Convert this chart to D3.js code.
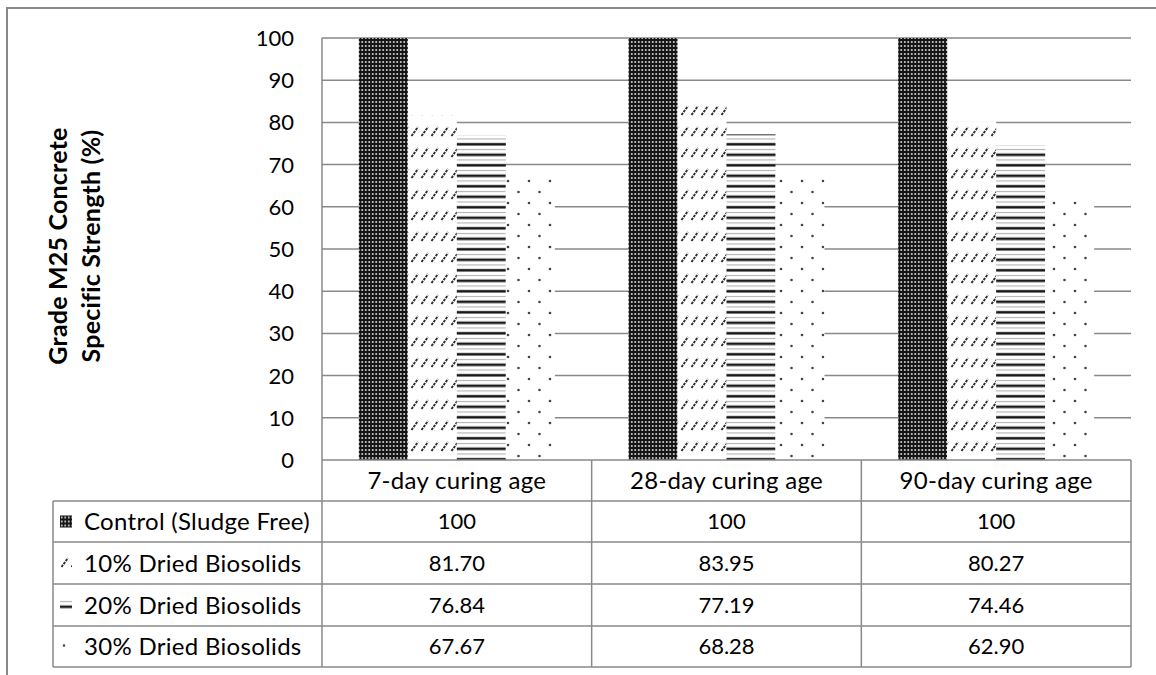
<!DOCTYPE html>
<html><head><meta charset="utf-8">
<script src="https://cdn.jsdelivr.net/npm/d3@7"></script>
<style>
html,body{margin:0;padding:0;background:#fff;}
svg{display:block;font-family:Lato,"Open Sans",sans-serif;}
</style></head>
<body>
<script>
const categories = ["7-day curing age", "28-day curing age", "90-day curing age"];
const seriesNames = ["Control (Sludge Free)", "10% Dried Biosolids", "20% Dried Biosolids", "30% Dried Biosolids"];
const control = [100, 100, 100];
const dried10 = [81.70, 83.95, 80.27];
const dried20 = [76.84, 77.19, 74.46];
const dried30 = [67.67, 68.28, 62.90];
const tableText = [["100","100","100"],["81.70","83.95","80.27"],["76.84","77.19","74.46"],["67.67","68.28","62.90"]];
const yTicks = [0,10,20,30,40,50,60,70,80,90,100];
const yTitle = ["Grade M25 Concrete", "Specific Strength (%)"];

const series = [control, dried10, dried20, dried30];
const W = 1156, H = 675;
const grid = "#898989";
const svg = d3.select("body").append("svg").attr("width", W).attr("height", H);

// patterns
const defs = svg.append("defs");
function makePatterns(prefix, ox, oy) {
  const p0 = defs.append("pattern").attr("id",prefix+"0").attr("patternUnits","userSpaceOnUse").attr("x",ox).attr("y",oy).attr("width",3.5).attr("height",4);
  p0.append("rect").attr("width",3.5).attr("height",4).attr("fill","#141414");
  p0.append("circle").attr("cx",1.75).attr("cy",2).attr("r",0.95).attr("fill","#e0e0e0");
  const p1 = defs.append("pattern").attr("id",prefix+"1").attr("patternUnits","userSpaceOnUse").attr("x",ox).attr("y",oy).attr("width",10).attr("height",21);
  p1.append("rect").attr("width",10).attr("height",21).attr("fill","#fff");
  p1.append("line").attr("x1",1.5).attr("y1",10).attr("x2",8).attr("y2",1).attr("stroke","#2e2e2e").attr("stroke-width",1.9).attr("stroke-dasharray","2.6,1");
  const p2 = defs.append("pattern").attr("id",prefix+"2").attr("patternUnits","userSpaceOnUse").attr("x",ox).attr("y",oy).attr("width",10).attr("height",10.5);
  p2.append("rect").attr("width",10).attr("height",10.5).attr("fill","#fff");
  p2.append("rect").attr("y",2).attr("width",10).attr("height",1).attr("fill","#aaa");
  p2.append("rect").attr("y",6.5).attr("width",10).attr("height",2.6).attr("fill","#1a1a1a");
  const p3 = defs.append("pattern").attr("id",prefix+"3").attr("patternUnits","userSpaceOnUse").attr("x",ox).attr("y",oy).attr("width",21).attr("height",22);
  p3.append("rect").attr("width",21).attr("height",22).attr("fill","#fff");
  p3.append("circle").attr("cx",4).attr("cy",5).attr("r",1.3).attr("fill","#444");
  p3.append("circle").attr("cx",14.5).attr("cy",16).attr("r",1.3).attr("fill","#444");
}
makePatterns("pat", 0, 0);
const fills = [0,1,2,3].map(i => "url(#pat" + i + ")");

// outer frame
svg.append("path").attr("d","M7,675V8H1156").attr("fill","none").attr("stroke",grid).attr("stroke-width",2);

const x0 = 322, x1 = 1131, yTop = 38, yBot = 460;
const x = d3.scaleBand().domain(categories).range([x0, x1]).paddingInner(0).paddingOuter(0);
const xs = d3.scaleBand().domain(seriesNames).range([0, x.bandwidth()]).paddingInner(0).paddingOuter(0.752);
const y = d3.scaleLinear().domain([0, 100]).range([yBot, yTop]);

// gridlines
svg.append("g").selectAll("line").data(yTicks.filter(t => t > 0)).join("line")
  .attr("x1", x0).attr("x2", x1).attr("y1", d => y(d)).attr("y2", d => y(d))
  .attr("stroke", grid).attr("stroke-width", 1.5);
svg.append("line").attr("x1",x0).attr("x2",x0).attr("y1",yTop).attr("y2",yBot).attr("stroke",grid).attr("stroke-width",1.5);

// y tick labels
svg.append("g").selectAll("text").data(yTicks).join("text")
  .attr("x", 294).attr("y", d => y(d)).attr("dy","0.36em").attr("text-anchor","end")
  .attr("font-size", 22).attr("fill","#000").text(d => d);

// bars
series.forEach((vals, si) => {
  svg.append("g").selectAll("rect").data(vals).join("rect")
    .attr("x", (d, i) => x(categories[i]) + xs(seriesNames[si]))
    .attr("width", xs.bandwidth())
    .attr("y", d => y(d)).attr("height", d => y(0) - y(d))
    .attr("fill", fills[si]);
});

// y title
const tg = svg.append("g").attr("transform","translate(0,246) rotate(-90)");
tg.selectAll("text").data(yTitle).join("text")
  .attr("x",0).attr("y",(d,i)=> 67 + i*33).attr("text-anchor","middle")
  .attr("font-size",25).attr("letter-spacing",0.2).attr("font-weight","bold").attr("fill","#000").text(d=>d);

// data table
const rowTop = [460, 501, 542, 584, 626, 667];
const tLeft = 53;
const tb = svg.append("g");
tb.selectAll("line.h").data(rowTop).join("line").attr("class","h")
  .attr("x1", (d,i) => i === 0 ? x0 : tLeft).attr("x2", x1)
  .attr("y1", d => d).attr("y2", d => d).attr("stroke", grid).attr("stroke-width", 1.5);
const vx = [x0].concat(categories.map(c => x(c) + x.bandwidth()));
tb.selectAll("line.v").data(vx).join("line").attr("class","v")
  .attr("x1", d => d).attr("x2", d => d).attr("y1", rowTop[0]).attr("y2", rowTop[5])
  .attr("stroke", grid).attr("stroke-width", 1.5);
tb.append("line").attr("x1",tLeft).attr("x2",tLeft).attr("y1",rowTop[1]).attr("y2",rowTop[5]).attr("stroke",grid).attr("stroke-width",1.5);
tb.selectAll("text.cat").data(categories).join("text").attr("class","cat")
  .attr("x", d => x(d) + x.bandwidth()/2).attr("y", (rowTop[0]+rowTop[1])/2).attr("dy","0.36em")
  .attr("text-anchor","middle").attr("font-size",24).attr("letter-spacing",0.3).attr("fill","#000").text(d => d);
seriesNames.forEach((s, si) => {
  const cy = (rowTop[si+1] + rowTop[si+2]) / 2;
  makePatterns("key" + si + "_", 60, cy - 6);
  tb.append("rect").attr("x", 60).attr("y", cy - 6).attr("width", 12).attr("height", 12).attr("fill", "url(#key" + si + "_" + si + ")");
  tb.append("text").attr("x", 84).attr("y", cy).attr("dy","0.36em").attr("font-size",24).attr("letter-spacing",0.3).attr("fill","#000").text(s);
  tb.append("g").selectAll("text").data(tableText[si]).join("text")
    .attr("x", (d, i) => x(categories[i]) + x.bandwidth()/2).attr("y", cy).attr("dy","0.36em")
    .attr("text-anchor","middle").attr("font-size",22).attr("fill","#000").text(d => d);
});
</script>
</body></html>
